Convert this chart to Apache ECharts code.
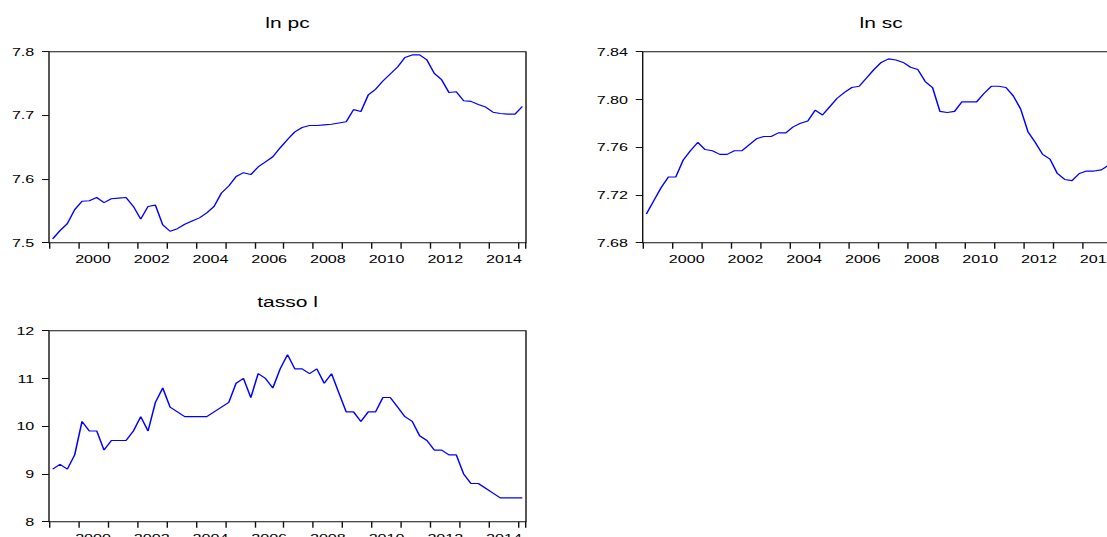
<!DOCTYPE html>
<html>
<head>
<meta charset="utf-8">
<script src="https://cdn.jsdelivr.net/npm/echarts@6/dist/echarts.min.js"></script>
<style>
  html, body { margin: 0; padding: 0; background: #fff; overflow: hidden; width: 1107px; height: 537px; }
  /* the figure is drawn narrower and stretched horizontally, like a widened graph export */
  #chart { width: 790.71px; height: 537px; transform: scaleX(1.4); transform-origin: 0 0; }
</style>
</head>
<body>
<div id="chart"></div>
<script>
// Quarterly observations, 1999Q1 - 2015Q1
const quarters = [
  '1999Q1','1999Q2','1999Q3','1999Q4','2000Q1','2000Q2','2000Q3','2000Q4',
  '2001Q1','2001Q2','2001Q3','2001Q4','2002Q1','2002Q2','2002Q3','2002Q4',
  '2003Q1','2003Q2','2003Q3','2003Q4','2004Q1','2004Q2','2004Q3','2004Q4',
  '2005Q1','2005Q2','2005Q3','2005Q4','2006Q1','2006Q2','2006Q3','2006Q4',
  '2007Q1','2007Q2','2007Q3','2007Q4','2008Q1','2008Q2','2008Q3','2008Q4',
  '2009Q1','2009Q2','2009Q3','2009Q4','2010Q1','2010Q2','2010Q3','2010Q4',
  '2011Q1','2011Q2','2011Q3','2011Q4','2012Q1','2012Q2','2012Q3','2012Q4',
  '2013Q1','2013Q2','2013Q3','2013Q4','2014Q1','2014Q2','2014Q3','2014Q4',
  '2015Q1'
];

// ln pc
const lnPC = [
  7.506, 7.519, 7.530, 7.552, 7.565, 7.566, 7.571, 7.563,
  7.569, 7.570, 7.571, 7.557, 7.537, 7.557, 7.559, 7.528,
  7.518, 7.522, 7.529, 7.534, 7.539, 7.547, 7.557, 7.578,
  7.589, 7.604, 7.610, 7.607, 7.619, 7.627, 7.635, 7.649,
  7.662, 7.674, 7.681, 7.684, 7.684, 7.685, 7.686, 7.688,
  7.690, 7.709, 7.706, 7.732, 7.741, 7.754, 7.765, 7.776,
  7.791, 7.795, 7.795, 7.787, 7.766, 7.756, 7.736, 7.737,
  7.723, 7.722, 7.717, 7.713, 7.705, 7.703, 7.702, 7.702,
  7.714
];

// ln sc
const lnSC = [
  7.704, 7.715, 7.726, 7.735, 7.735, 7.749, 7.757, 7.764,
  7.758, 7.757, 7.754, 7.754, 7.757, 7.757, 7.762, 7.767,
  7.769, 7.769, 7.772, 7.772, 7.777, 7.780, 7.782, 7.791,
  7.787, 7.794, 7.801, 7.806, 7.810, 7.811, 7.818, 7.825,
  7.831, 7.834, 7.833, 7.831, 7.827, 7.825, 7.815, 7.810,
  7.790, 7.789, 7.790, 7.798, 7.798, 7.798, 7.805, 7.811,
  7.811, 7.810, 7.803, 7.792, 7.773, 7.764, 7.754, 7.750,
  7.738, 7.733, 7.732, 7.738, 7.740, 7.740, 7.741, 7.745,
  7.748
];

// tasso l
const tassoL = [
  9.1, 9.2, 9.1, 9.4, 10.1, 9.9, 9.9, 9.5,
  9.7, 9.7, 9.7, 9.9, 10.2, 9.9, 10.5, 10.8,
  10.4, 10.3, 10.2, 10.2, 10.2, 10.2, 10.3, 10.4,
  10.5, 10.9, 11.0, 10.6, 11.1, 11.0, 10.8, 11.2,
  11.5, 11.2, 11.2, 11.1, 11.2, 10.9, 11.1, 10.7,
  10.3, 10.3, 10.1, 10.3, 10.3, 10.6, 10.6, 10.4,
  10.2, 10.1, 9.8, 9.7, 9.5, 9.5, 9.4, 9.4,
  9.0, 8.8, 8.8, 8.7, 8.6, 8.5, 8.5, 8.5,
  8.5
];

const panelTitles = ['ln pc', 'ln sc', 'tasso l'];

const SX = 1.4;                 // horizontal stretch applied to the container
const px = v => v / SX;         // page x -> chart x
const FONT = '"Liberation Sans", Arial, sans-serif';
const INK = '#111';

const plotW = px(477);
const plotH = 191;
const slot = plotW / quarters.length;

const grids = [
  { left: px(49),    top: 51.7,  width: plotW, height: plotH },
  { left: px(642.7), top: 51.7,  width: plotW, height: plotH },
  { left: px(49),    top: 330.7, width: plotW, height: plotH }
];

function xAxisFor(i) {
  return {
    type: 'category',
    gridIndex: i,
    data: quarters,
    boundaryGap: true,
    axisLine: { show: false },
    axisTick: {
      show: true, inside: false, length: 6,
      interval: idx => idx % 4 === 0,
      lineStyle: { color: INK, width: 1 }
    },
    axisLabel: {
      show: true,
      interval: idx => idx % 8 === 4,
      formatter: v => v.slice(0, 4),
      fontFamily: FONT, fontSize: 11.5, color: '#000',
      margin: 10,
      // year labels sit in the middle of their year
      padding: [0, 0, 0, slot * 3]
    },
    splitLine: { show: false }
  };
}

function yAxisFor(i, min, max, interval, digits) {
  return {
    type: 'value',
    gridIndex: i,
    min: min, max: max, interval: interval,
    axisLine: { show: false },
    axisTick: { show: true, inside: false, length: 5, lineStyle: { color: INK, width: 1 } },
    axisLabel: {
      formatter: v => v.toFixed(digits),
      fontFamily: FONT, fontSize: 11.5, color: '#000',
      margin: 10.5
    },
    splitLine: { show: false }
  };
}

function titleFor(i, text) {
  const g = grids[i];
  return {
    text: text,
    left: g.left + g.width / 2,
    top: g.top - 29.5,
    textAlign: 'center',
    textVerticalAlign: 'middle',
    padding: 0,
    textStyle: { fontFamily: FONT, fontSize: 15, fontWeight: 400, color: '#000' }
  };
}

function lineFor(i, data) {
  return {
    type: 'line',
    xAxisIndex: i,
    yAxisIndex: i,
    data: data,
    showSymbol: false,
    symbol: 'none',
    lineStyle: { color: '#0000ff', width: 1.1 },
    emphasis: { disabled: true }
  };
}

const chart = echarts.init(document.getElementById('chart'), null, { renderer: 'svg' });
chart.setOption({
  animation: false,
  backgroundColor: '#fff',
  title: panelTitles.map((t, i) => titleFor(i, t)),
  grid: grids.map(g => Object.assign({
    show: true, borderColor: INK, borderWidth: 1, backgroundColor: 'transparent',
    containLabel: false, outerBoundsMode: 'none'
  }, g)),
  xAxis: [xAxisFor(0), xAxisFor(1), xAxisFor(2)],
  yAxis: [
    yAxisFor(0, 7.5, 7.8, 0.1, 1),
    yAxisFor(1, 7.68, 7.84, 0.04, 2),
    yAxisFor(2, 8, 12, 1, 0)
  ],
  series: [lineFor(0, lnPC), lineFor(1, lnSC), lineFor(2, tassoL)]
});
</script>
</body>
</html>
